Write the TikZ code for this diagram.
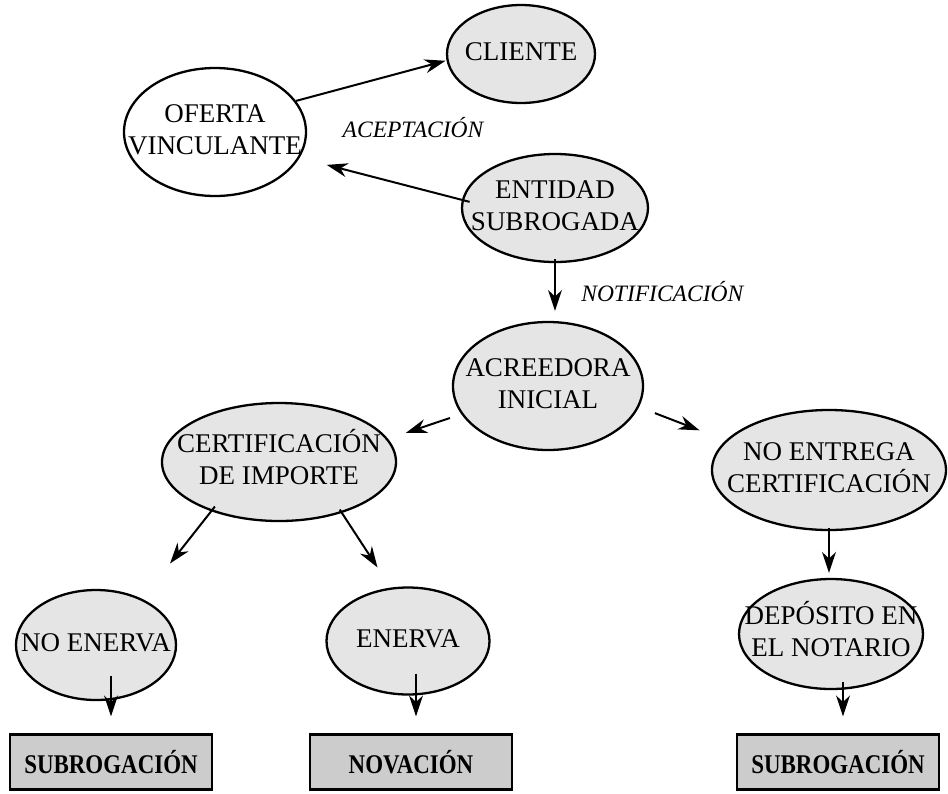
\documentclass[tikz,border=0pt]{standalone}
\usepackage{fontspec}
\setmainfont{Liberation Serif}
\newfontfamily\narrowserif{Liberation Serif}[FakeStretch=0.85]
\usepackage{xcolor}
\usetikzlibrary{shapes,arrows.meta,positioning}

% text that does not widen its ellipse
\newcommand{\ovaltext}[1]{\makebox[0pt]{\begin{tabular}{@{}c@{}}#1\end{tabular}}}

\begin{document}
\begin{tikzpicture}[x=1pt, y=-1pt]
    % Define styles
    \tikzstyle{concept} = [ellipse, draw=black, fill=black!10, line width=2.3pt, inner sep=0pt, font=\fontsize{27}{32}\selectfont]
    \tikzstyle{offer} = [concept, fill=white]
    \tikzstyle{outcome} = [rectangle, draw=black, fill=black!20, line width=2.3pt, minimum width=202pt, minimum height=55pt, font=\narrowserif\bfseries\fontsize{27}{30}\selectfont]
    \tikzstyle{arrow} = [line width=2pt, ->, >={Stealth[length=21pt,width=14pt]}]
    \tikzstyle{tag} = [font=\itshape\fontsize{23.5}{28}\selectfont]

    \useasboundingbox (0,0) rectangle (948,793);

    % Nodes
    \node [concept, minimum width=148pt, minimum height=98pt] (cliente) at (521,54) {\ovaltext{CLIENTE}};
    \node [offer, minimum width=182pt, minimum height=128pt] (oferta) at (215,132) {\ovaltext{OFERTA\\VINCULANTE}};
    \node [concept, minimum width=186pt, minimum height=108pt] (entidad) at (555,208) {\ovaltext{ENTIDAD\\SUBROGADA}};
    \node [concept, minimum width=190pt, minimum height=128pt] (acreedora) at (548,386) {\ovaltext{ACREEDORA\\INICIAL}};
    \node [concept, minimum width=234pt, minimum height=118pt] (cert) at (279,462) {\ovaltext{CERTIFICACIÓN\\DE IMPORTE}};
    \node [concept, minimum width=234pt, minimum height=120pt] (noentrega) at (829,470) {\ovaltext{NO ENTREGA\\CERTIFICACIÓN}};
    \node [concept, minimum width=160pt, minimum height=110pt] (noenerva) at (96,645) {\ovaltext{NO ENERVA}};
    \node [concept, minimum width=163pt, minimum height=107pt] (enerva) at (408,641) {\ovaltext{ENERVA}};
    \node [concept, minimum width=184pt, minimum height=110pt] (deposito) at (831,634) {\ovaltext{DEPÓSITO EN\\EL NOTARIO}};

    \node [outcome] (subrog1) at (111,762) {SUBROGACIÓN};
    \node [outcome] (novacion) at (411,762) {NOVACIÓN};
    \node [outcome] (subrog2) at (838,762) {SUBROGACIÓN};

    \node [tag] (aceptacion) at (413,128) {ACEPTACIÓN};

    % Arrows
    \draw [arrow, shorten >=1pt] (oferta.21) -- (cliente.185);
    \draw [arrow, shorten <=-8pt, shorten >=28pt] (entidad.175) -- (oferta.-17);
    \draw [arrow, shorten <=-4pt, shorten >=10pt] (entidad.south) -- (entidad.south |- acreedora.north)
        node [tag, midway, right=22pt] (notificacion) {NOTIFICACIÓN};
    \draw [arrow, shorten <=12pt, shorten >=19pt] (acreedora.198) -- (cert.12);
    \draw [arrow, shorten <=17pt, shorten >=28pt] (acreedora.-13) -- (noentrega.164);
    \draw [arrow, shorten <=-6pt, shorten >=45pt] (cert.216) -- (noenerva.45);
    \draw [arrow, shorten <=-4pt, shorten >=24pt] (cert.-39) -- (enerva.108);
    \draw [arrow, shorten <=-3pt, shorten >=5pt] (noentrega.south) -- (noentrega.south |- deposito.north);
    \draw [arrow, shorten <=-25pt, shorten >=17pt] (subrog1.north |- noenerva.south) -- (subrog1.north);
    \draw [arrow, shorten <=-22pt, shorten >=17pt] ([xshift=5pt]novacion.north |- enerva.south) -- ([xshift=5pt]novacion.north);
    \draw [arrow, shorten <=-8pt, shorten >=17pt] ([xshift=5pt]subrog2.north |- deposito.south) -- ([xshift=5pt]subrog2.north);
\end{tikzpicture}
\end{document}
